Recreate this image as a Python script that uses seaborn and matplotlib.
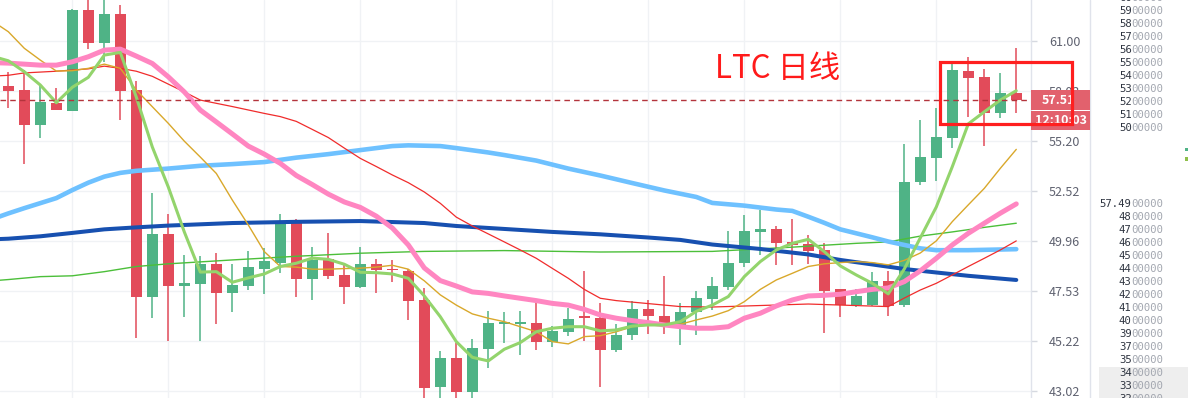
import numpy as np
import pandas as pd
import matplotlib
matplotlib.use('Agg')
import matplotlib.pyplot as plt
import seaborn as sns
from matplotlib.patches import Rectangle
from matplotlib.lines import Line2D
from matplotlib.ticker import FixedLocator, FixedFormatter, NullLocator

# ---------------- data ----------------
opens = [58.33, 58.09, 56.07, 57.35, 56.91, 62.92, 60.90, 62.67, 58.09, 47.27,
         50.32, 47.79, 47.89, 48.84, 47.45, 47.79, 48.61, 48.90, 50.87, 48.13,
         49.09, 48.29, 47.74, 48.84, 48.61, 48.49, 47.11, 43.17, 44.47, 42.96,
         44.88, 45.98, 45.98, 46.05, 45.19, 45.65, 46.34, 46.28, 44.82, 45.47,
         46.70, 46.38, 45.96, 46.53, 47.17, 47.74, 48.87, 50.43, 50.57, 49.91,
         49.81, 49.52, 47.63, 46.86, 46.86, 48.03, 46.86, 52.97, 54.30, 55.39,
         59.22, 58.86, 56.80, 57.92]
highs = [59.12, 59.28, 58.33, 58.21, 62.99, 63.80, 63.90, 63.23, 58.60, 52.40,
         51.34, 49.26, 49.20, 49.36, 48.84, 49.47, 49.61, 51.34, 51.09, 49.65,
         50.39, 48.76, 49.65, 49.09, 49.04, 48.60, 47.66, 44.79, 45.12, 45.30,
         46.60, 46.57, 46.61, 47.16, 45.88, 46.73, 48.50, 46.96, 45.99, 47.07,
         47.11, 48.26, 46.96, 47.53, 48.20, 50.47, 51.29, 51.51, 50.74, 51.09,
         50.27, 49.88, 47.63, 47.63, 48.45, 48.50, 55.02, 56.35, 57.07, 59.68,
         60.03, 59.34, 59.10, 60.57]
lows = [57.07, 53.97, 55.37, 56.94, 56.88, 60.54, 59.71, 56.35, 45.34, 46.27,
        45.23, 46.31, 45.23, 46.00, 46.53, 47.60, 47.39, 48.41, 47.27, 47.11,
        48.13, 46.93, 47.67, 47.45, 47.94, 46.16, 42.50, 42.50, 42.50, 42.50,
        44.02, 45.15, 44.59, 44.82, 44.97, 45.45, 45.23, 43.21, 44.72, 45.26,
        45.54, 45.54, 45.04, 45.47, 46.62, 47.60, 48.67, 49.28, 48.79, 48.79,
        48.84, 45.60, 46.30, 46.80, 46.85, 46.38, 46.80, 52.85, 53.06, 54.84,
        56.57, 54.93, 56.48, 56.80]
closes = [58.05, 56.07, 57.41, 56.97, 62.92, 60.90, 62.67, 58.05, 47.27, 50.32,
          47.79, 47.92, 48.84, 47.45, 47.82, 48.70, 48.99, 50.87, 48.13, 49.04,
          48.27, 47.74, 48.84, 48.52, 48.52, 47.08, 43.14, 44.47, 42.96, 44.91,
          46.04, 46.07, 46.07, 45.19, 45.68, 46.24, 46.25, 44.82, 45.50, 46.70,
          46.34, 46.04, 46.55, 47.19, 47.77, 48.87, 50.47, 50.56, 49.88, 49.77,
          49.47, 47.54, 46.86, 47.31, 48.03, 46.84, 52.99, 54.34, 55.43, 59.28,
          58.82, 56.80, 57.92, 57.51]

full_days = list(range(-1, 64))
ma5 = [60.08, 59.81, 59.16, 58.38, 57.36, 58.25, 58.83, 60.15, 60.31, 57.68, 54.88,
       52.73, 50.42, 48.44, 48.46, 47.95, 48.16, 48.35, 48.71, 48.87, 49.12,
       49.06, 48.82, 48.43, 48.41, 48.35, 48.14, 47.30, 46.33, 45.19, 44.49,
       44.33, 44.85, 45.15, 45.64, 45.80, 45.87, 45.87, 45.68, 45.72, 45.90,
       45.95, 45.95, 46.10, 46.58, 46.87, 47.27, 48.22, 48.95, 49.52, 49.85,
       50.05, 49.44, 48.74, 48.30, 47.90, 47.40, 48.59, 50.12, 51.69, 53.81,
       56.16, 56.84, 57.51, 58.05]
ma10 = [62.23, 61.57, 60.56, 59.85, 59.20, 59.22, 59.36, 59.61, 59.36, 58.09, 57.13,
        56.19, 55.20, 54.33, 53.45, 52.05, 50.77, 49.44, 48.71, 48.68, 48.58,
        48.58, 48.61, 48.63, 48.68, 48.77, 48.58, 48.02, 47.35, 46.87, 46.46,
        46.26, 46.10, 45.87, 45.64, 45.19, 45.09, 45.42, 45.46, 45.64, 45.87,
        45.95, 45.95, 45.98, 46.18, 46.36, 46.61, 47.03, 47.61, 48.06, 48.38,
        48.71, 48.84, 48.90, 48.95, 48.90, 48.79, 49.01, 49.37, 49.97, 50.94,
        51.80, 52.66, 53.72, 54.75]
ma20 = [59.70, 59.67, 59.61, 59.55, 59.55, 59.75, 60.05, 60.45, 60.51, 60.09, 59.65,
        58.86, 57.98, 56.94, 56.27, 55.60, 54.93, 54.49, 53.99, 53.34, 52.86,
        52.36, 51.95, 51.67, 51.22, 50.62, 49.77, 48.64, 48.03, 47.77, 47.49,
        47.42, 47.30, 47.19, 47.08, 46.95, 46.87, 46.67, 46.41, 46.26, 46.15,
        46.06, 45.95, 45.87, 45.80, 45.80, 45.87, 46.26, 46.49, 46.83, 47.11,
        47.30, 47.33, 47.38, 47.50, 47.61, 47.68, 47.98, 48.50, 49.11, 49.77,
        50.35, 50.86, 51.37, 51.85]
ma30_days = [-1, 0, 1, 3, 5, 6, 7, 8, 9, 11, 12, 14, 16, 17, 18, 19, 20,
             21, 22, 23, 24, 25, 26, 27, 28, 29, 30, 31, 32, 33, 34, 35, 36, 37, 38,
             40, 42, 44, 50, 55, 56, 57, 58, 59, 60, 61, 62, 63]
ma30 = [58.90, 58.95, 59.09, 59.19, 59.33, 59.49, 59.36, 59.19, 58.89, 57.98, 57.51,
        57.14, 56.75, 56.57, 56.30, 55.85, 55.40,
        54.82, 54.26, 53.82, 53.37, 52.96, 52.47, 51.88, 51.17, 50.72, 50.32, 49.92,
        49.52, 49.11, 48.62, 48.14, 47.61, 47.19, 47.08,
        46.94, 46.80, 46.78, 46.92, 46.80, 47.20, 47.58, 47.90, 48.30, 48.71, 49.11,
        49.52, 49.97]
ma60_days = [-1, 0, 1, 3, 4, 5, 6, 7, 8, 10, 12, 14, 16, 18, 20, 22, 24, 25,
             27, 28, 30, 31, 33, 35, 37, 39, 41, 43, 44,
             46, 48, 49, 50, 51, 52, 53, 54, 55, 56, 57, 58, 60, 63]
ma60 = [51.07, 51.36, 51.63, 52.15, 52.57, 52.96, 53.28, 53.48, 53.59, 53.71, 53.86,
        53.95, 54.06, 54.30, 54.49, 54.71, 54.93, 54.97,
        54.93, 54.82, 54.58, 54.44, 54.14, 53.71, 53.34, 52.94, 52.55, 52.21, 51.90,
        51.76, 51.56, 51.49, 51.19, 50.88, 50.55, 50.35, 50.15, 49.94, 49.77, 49.60,
        49.51, 49.51, 49.56]
ma120_days = [-1, 0, 2, 4, 6, 8, 10, 14, 18, 22, 26, 28, 31, 34, 37, 40, 42, 44,
              47, 50, 52, 54, 56, 58, 60, 63]
ma120 = [50.05, 50.08, 50.20, 50.37, 50.55, 50.65, 50.74, 50.87, 50.93, 50.97, 50.87,
         50.72, 50.57, 50.42, 50.30, 50.14, 50.02, 49.79, 49.57, 49.30, 49.03, 48.81,
         48.59, 48.42, 48.26, 48.06]
ma250_days = [-1, 0, 2, 4, 6, 8, 10, 14, 18, 22, 26, 31, 37, 44, 49, 53, 55, 57, 59, 61, 63]
ma250 = [48.02, 48.08, 48.22, 48.26, 48.46, 48.71, 48.84, 49.03, 49.21, 49.36, 49.45,
         49.49, 49.42, 49.45, 49.66, 49.85, 49.92, 50.21, 50.42, 50.65, 50.86]

last_price = 57.51
last_price_label = '57.51'
countdown_label = '12:10:03'
price_ticks = [61.00, 58.03, 55.20, 52.52, 49.96, 47.53, 45.22, 43.02]
price_tick_labels = ['61.00', '58.03', '55.20', '52.52', '49.96', '47.53', '45.22', '43.02']
title_text = 'LTC 日线'
box_days = (58.23, 66.48)
box_prices = (56.16, 59.73)

scale_top = ['6000000', '5900000', '5800000', '5700000', '5600000', '5500000',
             '5400000', '5300000', '5200000', '5100000', '5000000']
scale_bottom = ['57.4900000', '4800000', '4700000', '4600000', '4500000', '4400000',
                '4300000', '4200000', '4100000', '4000000', '3900000', '3700000',
                '3500000', '3400000', '3300000', '3200000']

# ---------------- style ----------------
sns.set_theme(style='white')
plt.rcParams['font.family'] = ['Noto Sans CJK SC', 'DejaVu Sans']

GREEN = '#4fb386'
RED = '#e24b5a'

W, H = 1188, 398
fig = plt.figure(figsize=(W / 100, H / 100), dpi=100)
fig.patch.set_facecolor('white')
ax = fig.add_axes([0, 0, 1031 / W, 1])
ax.set_facecolor('white')
ax.set_yscale('log')
ax.set_xlim(-0.52, 63.92)
ax.set_ylim(42.72, 63.55)

def fx(px):
    return px / W

def fy(py):
    return 1 - py / H

# grid
ax.set_axisbelow(True)
ax.set_xticks(list(range(4, 64, 6)))
ax.tick_params(axis='x', length=0, labelbottom=False)
ax.grid(True, color='#f0f2f5', linewidth=1)

# candles
days = np.arange(len(opens))
o = np.array(opens); c = np.array(closes)
h = np.array(highs); l = np.array(lows)
cols = np.where(c >= o, GREEN, RED)
ax.vlines(days, l, h, colors=cols, linewidth=1.1, zorder=2)
bottoms = np.minimum(o, c)
heights = np.maximum(np.abs(c - o), 0.06)
ax.bar(days, heights, bottom=bottoms, width=0.69, color=cols, linewidth=0, zorder=3)

# moving averages
lines = [
    (ma250_days, ma250, '#4cbf3a', 1.0),
    (ma120_days, ma120, '#1750b0', 2.9),
    (ma60_days, ma60, '#6ec1ff', 3.3),
    (ma30_days, ma30, '#f02c2c', 0.9),
    (full_days, ma10, '#d9a82b', 1.0),
    (full_days, ma20, '#ff86c1', 3.6),
    (full_days, ma5, '#93d46c', 2.2),
]
for k, (dd, vv, col, lw) in enumerate(lines):
    df = pd.DataFrame({'day': dd, 'price': vv})
    sns.lineplot(data=df, x='day', y='price', ax=ax, color=col, linewidth=lw,
                 estimator=None, sort=False, legend=False, zorder=4 + k * 0.1)
ax.set_xlabel('')
ax.set_ylabel('')

# last price dashed line
ax.axhline(last_price, color='#b3343c', linestyle=(0, (4, 3)), linewidth=1.0, zorder=5)

# y axis on right
for s in ['top', 'left', 'bottom']:
    ax.spines[s].set_visible(False)
ax.spines['right'].set_color('#e0e3eb')
ax.spines['right'].set_linewidth(1)
ax.yaxis.tick_right()
ax.yaxis.set_major_locator(FixedLocator(price_ticks))
ax.yaxis.set_major_formatter(FixedFormatter(price_tick_labels))
ax.yaxis.set_minor_locator(NullLocator())
ax.tick_params(axis='y', which='major', length=4, width=1, color='#d6d9e0',
               pad=9, labelsize=9, labelcolor='#5f6270', direction='out')

# title
ax.text(0.6935, 0.8266, title_text, transform=ax.transAxes, color='#ff1a1a',
        fontsize=22.5, ha='left', va='center', zorder=8)

# price label boxes
fig.add_artist(Rectangle((fx(1031), fy(110)), fx(59), 20 / H, transform=fig.transFigure,
                         facecolor='#e2616d', edgecolor='none', zorder=10))
fig.add_artist(Rectangle((fx(1031), fy(130)), fx(59), 19 / H, transform=fig.transFigure,
                         facecolor='#e2616d', edgecolor='none', zorder=10))
fig.text(fx(1058), fy(100), last_price_label, color='white', fontsize=9,
         fontweight='bold', ha='center', va='center', zorder=11)
fig.text(fx(1061), fy(120.5), countdown_label, color='white', fontsize=9,
         fontweight='bold', ha='center', va='center', zorder=11)

# highlight rectangle
fig.add_artist(Rectangle((box_days[0], box_prices[0]), box_days[1] - box_days[0],
                         box_prices[1] - box_prices[0], transform=ax.transData,
                         fill=False, edgecolor='#ff1f1f', linewidth=2.3, zorder=12))

# right-hand scale panel
fig.add_artist(Line2D([fx(1090), fx(1090)], [0, 1], transform=fig.transFigure,
                      color='#e0e3eb', linewidth=1, zorder=9))
fig.add_artist(Rectangle((fx(1099), 0), fx(89), 31 / H, transform=fig.transFigure,
                         facecolor='#eeeeee', edgecolor='none', zorder=9))
CW = 6.45
def scale_text(s, ypix, ndark):
    left = 1164 - len(s) * CW
    fig.text(fx(left), fy(ypix), s[:ndark], color='#2e3440', fontsize=7.7,
             family='DejaVu Sans Mono', ha='left', va='center', zorder=11)
    fig.text(fx(left + ndark * CW), fy(ypix), s[ndark:], color='#a3a7b0', fontsize=7.7,
             family='DejaVu Sans Mono', ha='left', va='center', zorder=11)

for k, s in enumerate(scale_top):
    scale_text(s, -2 + 13 * k, 2)
for k, s in enumerate(scale_bottom):
    scale_text(s, 203.7 + 13.02 * k, 5 if '.' in s else 2)

# tiny marker at far right
fig.add_artist(Rectangle((fx(1185), fy(151)), fx(3), 3 / H, transform=fig.transFigure,
                         facecolor='#4fb386', edgecolor='none', zorder=11))
fig.add_artist(Rectangle((fx(1185), fy(161)), fx(3), 4 / H, transform=fig.transFigure,
                         facecolor='#8fbf4a', edgecolor='none', zorder=11))

fig.savefig('out.png', dpi=100)
